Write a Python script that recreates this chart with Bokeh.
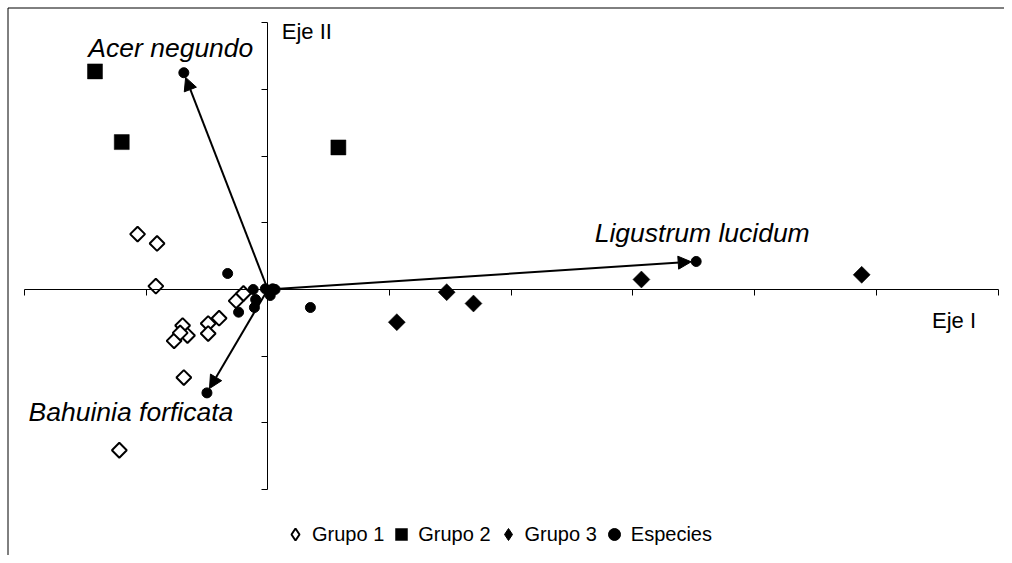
import math
from bokeh.plotting import figure
from bokeh.models import (ColumnDataSource, Arrow, NormalHead, FixedTicker,
                          Range1d, Legend, LegendItem)
from bokeh.core.properties import value
from bokeh.embed import file_html
from bokeh.resources import INLINE

# ---------------- data ----------------
g1_x = [-1.07, -0.91, -0.92, -1.22, -0.69, -0.70, -0.66, -0.77, -0.72, -0.49, -0.49, -0.40, -0.26, -0.20]
g1_y = [0.83, 0.69, 0.05, -2.41, -1.32, -0.54, -0.69, -0.77, -0.65, -0.51, -0.66, -0.43, -0.17, -0.06]

g2_x = [-1.42, -1.20, 0.58]
g2_y = [3.27, 2.21, 2.13]

g3_x = [1.06, 1.47, 1.69, 3.07, 4.88]
g3_y = [-0.49, -0.04, -0.21, 0.15, 0.22]

sp_x = [-0.69, 3.52, -0.50, -0.33, -0.12, -0.10, -0.11, -0.24, -0.02, 0.04, 0.06, 0.02, 0.35]
sp_y = [3.25, 0.42, -1.55, 0.24, 0.00, -0.15, -0.27, -0.34, 0.01, 0.01, 0.00, -0.09, -0.27]

named_species = ["Acer negundo", "Ligustrum lucidum", "Bahuinia forficata"]
named_x = sp_x[:3]
named_y = sp_y[:3]

x_ticks = list(range(-2, 7))
y_ticks = list(range(-3, 5))

legend_labels = ["Grupo 1", "Grupo 2", "Grupo 3", "Especies"]
axis_titles = ["Eje I", "Eje II"]

# ---------------- figure ----------------
W, H = 1004, 555
X0, X1 = -2.1964, 6.0534
Y0, Y1 = -3.988, 4.3328
FONT = "Liberation Sans"

p = figure(width=W, height=H, x_range=Range1d(X0, X1), y_range=Range1d(Y0, Y1),
           output_backend="svg", toolbar_location=None, min_border=0)
p.grid.visible = False
p.outline_line_color = None
p.background_fill_color = "white"
p.border_fill_color = "white"

px_x = W / (X1 - X0)
px_y = H / (Y1 - Y0)

# chart-area border: only its top and left edges fall inside the picture
bx = X0 + 7.5 / px_x
by = Y1 - 7.5 / px_y
p.segment(x0=[bx, bx], y0=[by, by], x1=[X1, bx], y1=[by, Y0],
          line_color="black", line_width=1)

# axes crossing at the origin
for ax, ticks in ((p.xaxis[0], x_ticks), (p.yaxis[0], y_ticks)):
    ax.fixed_location = 0
    ax.bounds = (ticks[0], ticks[-1])
    ax.ticker = FixedTicker(ticks=ticks, minor_ticks=[])
    ax.major_label_overrides = {t: "" for t in ticks}
    ax.major_label_text_font_size = "0px"
    ax.axis_line_color = "black"
    ax.axis_line_width = 1
    ax.major_tick_line_color = "black"
    ax.major_tick_out = 6
    ax.major_tick_in = 0
    ax.minor_tick_line_color = None

# groups
r1 = p.scatter(g1_x, g1_y, marker="square", angle=math.pi / 4, size=10.5,
               fill_color="white", line_color="black", line_width=2)
r2 = p.scatter(g2_x, g2_y, marker="square", size=15,
               fill_color="black", line_color="black", line_width=0.5)
r3 = p.scatter(g3_x, g3_y, marker="square", angle=math.pi / 4, size=12,
               fill_color="black", line_color="black", line_width=0.5)

# arrows from the origin to the three named species (stopping at the dot edge)
ax_end, ay_end = [], []
for x, y in zip(named_x, named_y):
    L = math.hypot(x * px_x, y * px_y)
    f = (L - 5.0) / L
    ax_end.append(x * f)
    ay_end.append(y * f)
arrow_src = ColumnDataSource(dict(x0=[0.0] * 3, y0=[0.0] * 3, x1=ax_end, y1=ay_end))
p.add_layout(Arrow(source=arrow_src, x_start="x0", y_start="y0", x_end="x1", y_end="y1",
                   line_width=2, line_color="black",
                   end=NormalHead(size=13, fill_color="black", line_color="black",
                                  line_width=1)))

r4 = p.scatter(sp_x, sp_y, marker="circle", size=10, fill_color="black", line_color="black")

# species labels
label_offsets = [(-13, -25), (6, -28), (-76, 19)]
for name, x, y, (dx, dy) in zip(named_species, named_x, named_y, label_offsets):
    p.text(x=[x], y=[y], text=[name], text_font=value(FONT), text_font_size="26.5px",
           text_font_style="italic", text_align="center", text_baseline="alphabetic",
           x_offset=dx, y_offset=dy, text_color="black")

# axis titles
p.text(x=[x_ticks[-1]], y=[0], text=[axis_titles[0]], text_font=value(FONT),
       text_font_size="22px", text_align="right", text_baseline="alphabetic",
       x_offset=-22, y_offset=31, text_color="black")
p.text(x=[0], y=[y_ticks[-1]], text=[axis_titles[1]], text_font=value(FONT),
       text_font_size="22px", text_align="left", text_baseline="alphabetic",
       x_offset=14, y_offset=9, text_color="black")

# legend keys for the diamond groups (legend keys are drawn unrotated,
# so use off-plot diamond renderers for them)
nan = float("nan")
k1 = p.scatter(x=[nan], y=[nan], marker="diamond", fill_color="white", line_color="black", line_width=2)
k3 = p.scatter(x=[nan], y=[nan], marker="diamond", fill_color="black", line_color="black")
legend = Legend(items=[LegendItem(label=legend_labels[0], renderers=[k1]),
                       LegendItem(label=legend_labels[1], renderers=[r2]),
                       LegendItem(label=legend_labels[2], renderers=[k3]),
                       LegendItem(label=legend_labels[3], renderers=[r4])],
                orientation="horizontal", location=(280, 6),
                glyph_width=30, glyph_height=30, label_standoff=2, spacing=2,
                padding=0, margin=0, border_line_color=None, background_fill_alpha=0,
                label_text_font=FONT, label_text_font_size="20px",
                label_text_color="black")
p.add_layout(legend)

open("out.html", "w").write(file_html(p, INLINE))
